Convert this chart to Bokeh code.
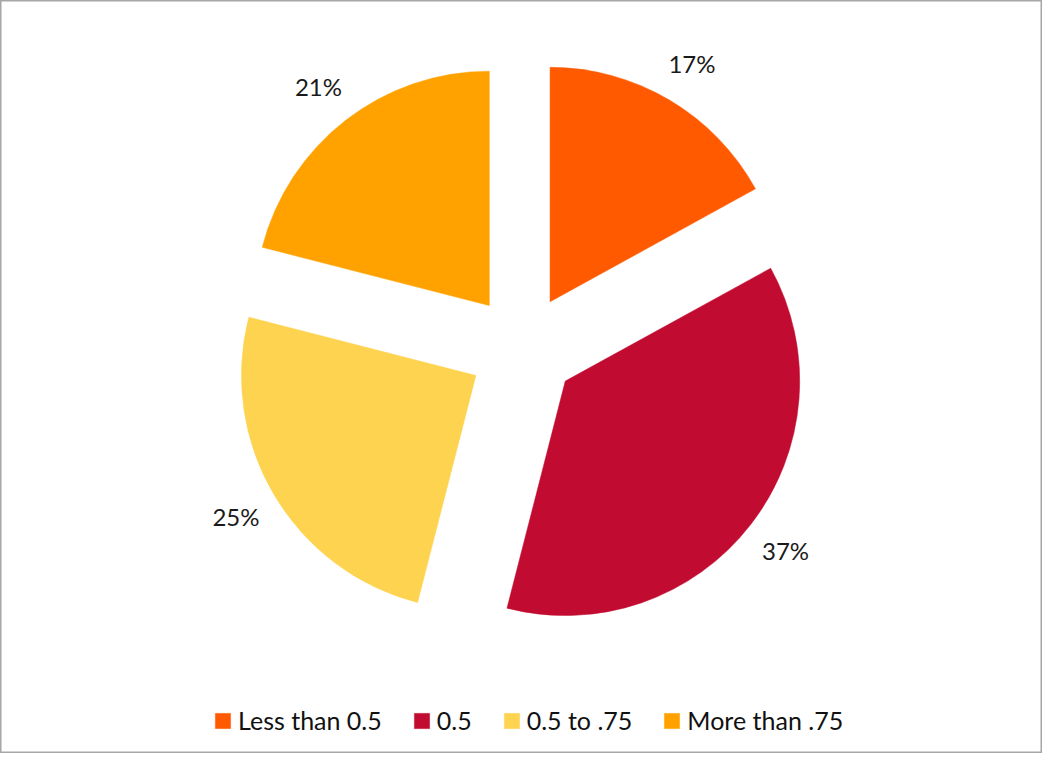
import math
from bokeh.plotting import figure
from bokeh.models import Range1d, Legend, LegendItem
from bokeh.core.properties import value
from bokeh.embed import file_html
from bokeh.resources import INLINE

categories = ["Less than 0.5", "0.5", "0.5 to .75", "More than .75"]
shares = [17, 37, 25, 21]
labels = ["17%", "37%", "25%", "21%"]
colors = ["#FF5A00", "#C20B30", "#FDD34F", "#FFA200"]

W, H = 1042, 753
p = figure(width=W, height=H, output_backend="svg", toolbar_location=None,
           x_range=Range1d(0, 1058), y_range=Range1d(0, 769),
           min_border=0)
p.axis.visible = False
p.grid.visible = False
p.outline_line_color = "#a6a6a6"
p.outline_line_width = 2
p.background_fill_color = "white"

cx, cy = 530, 769 - 355
R = 238
explode = 55
label_r = 338

total = sum(shares)
cum = 0.0
items = []
for cat, s, lab, col in zip(categories, shares, labels, colors):
    a0 = math.pi / 2 - 2 * math.pi * cum / total
    a1 = math.pi / 2 - 2 * math.pi * (cum + s) / total
    mid = (a0 + a1) / 2
    ox = cx + explode * math.cos(mid)
    oy = cy + explode * math.sin(mid)
    r = p.wedge(x=[ox], y=[oy], radius=R, start_angle=a0, end_angle=a1,
                direction="clock", fill_color=col, line_color=col, line_width=0.5)
    items.append(LegendItem(label=cat, renderers=[r]))
    p.text(x=[cx + label_r * math.cos(mid)], y=[cy + label_r * math.sin(mid)], text=[lab],
           text_align="center", text_baseline="middle", text_font=value("Lato"),
           text_font_size="24px", text_color="#1a1a1a")
    cum += s

legend = Legend(items=items, orientation="horizontal", location=(213, 18),
                glyph_width=19, glyph_height=19, label_standoff=6, spacing=30,
                label_text_font="Lato", label_text_font_size="25px",
                label_text_color="#111111", border_line_color=None,
                background_fill_alpha=0, padding=0, margin=0)
p.add_layout(legend, "center")

open("out.html", "w").write(file_html(p, INLINE))
